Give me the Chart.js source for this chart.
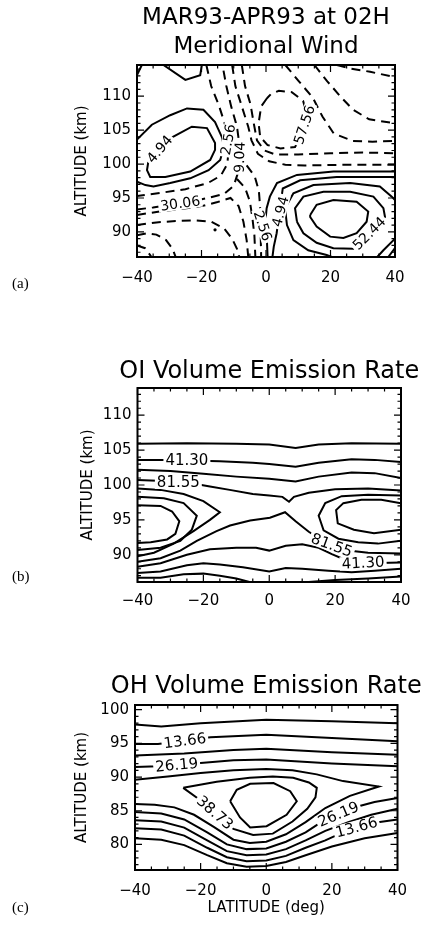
<!DOCTYPE html>
<html lang="pt-BR">
<head>
<meta charset="UTF-8">
<title>MAR93-APR93 at 02H</title>
<script src="https://cdn.jsdelivr.net/npm/chart.js@4.4.1/dist/chart.umd.min.js"></script>
<style>
  html, body { margin: 0; padding: 0; background: #fff; }
  body { position: relative; width: 428px; height: 927px; overflow: hidden; }
  .painel { position: absolute; left: 0; width: 428px; }
  .letra { position: absolute; left: 12px; font: 15px "Liberation Serif", serif; color: #000; }
</style>
</head>
<body>
<div class="painel" style="top: 0; height: 300px"><canvas id="graficoVento"></canvas></div>
<div class="painel" style="top: 300px; height: 320px"><canvas id="graficoOI"></canvas></div>
<div class="painel" style="top: 620px; height: 307px"><canvas id="graficoOH"></canvas></div>
<div class="letra" style="top: 275px">(a)</div>
<div class="letra" style="top: 568px">(b)</div>
<div class="letra" style="top: 899px">(c)</div>

<script>
const fonte = "'DejaVu Sans', sans-serif";

const latitudes = [-40, -20, 0, 20, 40];
const altitudesVento = [90, 95, 100, 105, 110];
const altitudesOI = [90, 95, 100, 105, 110];
const altitudesOH = [80, 85, 90, 95, 100];

// (a) vento meridional, pares [latitude, altitude]; cheias = positivo
const ventoPositivo = [
  [[-40, 103.6], [-35.4, 105.8], [-29.7, 107.2], [-24.5, 108.2], [-19.4, 108.0], [-15.8, 106.2], [-13.7, 104.0], [-13.2, 102.3], [-14.2, 100.6], [-17.8, 99.1], [-23.5, 97.9], [-29.7, 97.2], [-34.9, 96.7], [-37.4, 96.9], [-40, 97.4]],
  [[-36.4, 100.6], [-36.9, 99.1], [-35.9, 98.1], [-31.2, 98.1], [-23.5, 98.9], [-17.3, 100.6], [-15.8, 102.1], [-15.8, 103.1], [-18.3, 105.3], [-23.0, 105.5], [-29.7, 103.8], [-33.0, 102.2], [-36.4, 100.6]],
  [[-31.8, 114.6], [-25.0, 112.4], [-20.4, 113.1], [-19.9, 114.6]],
  [[-40, 113.1], [-38.5, 114.6]],
  [[13.7, 92.5], [15.7, 94.0], [20.9, 94.7], [28.1, 94.45], [31.7, 93.0], [31.2, 91.5], [28.1, 89.8], [24.0, 89.1], [19.9, 89.3], [15.7, 90.8], [13.7, 92.2], [13.7, 92.5]],
  [[9.6, 91.5], [9.0, 93.5], [11.6, 95.2], [17.8, 95.9], [26.1, 95.9], [33.3, 95.2], [36.4, 93.5], [36.9, 92.2], [32, 89.8], [27.1, 87.5], [20.9, 87.6], [15.7, 88.4], [11.6, 89.8], [9.6, 91.5]],
  [[20.4, 86.3], [18.8, 86.6], [13.1, 87.3], [8.5, 88.8], [6.5, 91.0], [5.9, 93.5], [8.5, 95.7], [14.7, 96.9], [26.1, 97.2], [35.3, 96.7], [39.0, 95.2], [40, 94.7]],
  [[34.5, 86.3], [36.4, 87.3], [40, 89.0]],
  [[37.9, 86.3], [40, 87.6]],
  [[2.0, 86.3], [2.4, 87.8], [3.3, 89.8], [4.2, 93.0], [5.2, 96.4], [10.6, 97.6], [21.9, 98.1], [35.3, 98.1], [40, 98.1]],
  [[0.5, 86.3], [0.3, 88.5], [-0.2, 91.5], [0.2, 93.5], [1.2, 95.2], [3.4, 97.2], [9.6, 98.4], [20.9, 98.9], [40, 98.9]]
];

// tracejadas = negativo
const ventoNegativo = [
  [[-18.5, 114.6], [-17, 111.5], [-14.5, 108.5], [-12.5, 105.5], [-11.5, 102.5], [-12, 100], [-14, 98.3], [-18, 97.2], [-25, 96.3], [-32, 95.8], [-40, 95.3]],
  [[-40, 93.3], [-35, 93.6], [-30, 94.0], [-24, 94.4], [-18, 95.0], [-13, 95.6], [-10, 96.8], [-8.5, 99], [-8, 102], [-9, 105.5], [-10.8, 108.5], [-12.3, 111.5], [-13.5, 114.6]],
  [[-10.5, 114.6], [-9.5, 111.5], [-7.5, 108.5], [-5.5, 105.5], [-4.5, 103.5], [-2.5, 101.5], [1, 100.4], [6, 99.9], [12, 99.8], [25, 99.9], [40, 99.9]],
  [[-7.5, 114.6], [-6.5, 111.5], [-4.8, 108.8], [-3.8, 106], [-2.8, 103.5], [-0.5, 102], [3, 101.4], [10, 101.4], [20, 101.6], [30, 101.7], [40, 101.6]],
  [[6, 114.6], [10, 112.3], [14.5, 109.8], [17.5, 107], [21, 104.5], [27, 103.4], [33, 103.3], [40, 103.4]],
  [[15, 114.6], [19, 112.2], [23, 110], [27, 108], [32, 106.6], [40, 106.0]],
  [[22, 114.6], [26, 114.1], [32.3, 113.6], [40, 112.8]],
  [[0.3, 109.7], [-1.5, 108.5], [-2.3, 106], [-1.8, 104], [0.5, 102.8], [4.5, 102.3], [9, 102.5], [11.3, 104.5], [12.6, 107.5], [11.5, 109.3], [8, 110.6], [4, 110.8], [1.5, 110.3], [0.3, 109.7]],
  [[-40, 92.5], [-33, 93.0], [-26, 93.4], [-20, 93.8], [-15, 94.4], [-11, 95.0], [-8.5, 93.8], [-7, 91.5], [-6, 88.8], [-5.5, 86.3]],
  [[-40, 91.0], [-34, 91.4], [-28, 91.6], [-22, 91.7], [-17, 91.5], [-13, 90.5], [-10.5, 89], [-9, 87.5], [-8.3, 86.3]],
  [[-40, 89.5], [-37, 89.8], [-34, 89.6], [-31, 88.8], [-29, 87.5], [-28, 86.3]],
  [[-40, 88.0], [-37.5, 87.6], [-35.5, 86.3]],
  [[-9, 97.8], [-6.5, 96.5], [-5, 94.5], [-4.2, 92], [-3.6, 89.5], [-3.3, 86.3]],
  [[-6, 99.8], [-3.5, 98.2], [-2.2, 96], [-1.8, 93.5], [-1.7, 91], [-1.6, 88.5], [-1.5, 86.3]]
];

const ventoPontos = [[-15.8, 90.3]];

// [texto, latitude, altitude, angulo]
const ventoRotulos = [
  ["4.94", -33.0, 102.2, -50],
  ["2.56", -11.8, 103.6, -80],
  ["9.04", -8.2, 101.0, -88],
  ["30.06", -26.6, 94.2, -8],
  ["57.56", 11.9, 105.8, -72],
  ["4.94", 4.4, 93.0, -75],
  ["52.44", 32, 89.8, -45],
  ["2.56", -1.0, 90.9, 72]
];

// (b) OI
const oiContornos = [
  [[-40, 105.9], [-25, 106.0], [-10, 105.9], [0, 105.8], [8, 105.3], [15, 105.8], [25, 106.0], [40, 105.9]],
  [[-40, 103.6], [-30, 103.6], [-15, 103.4], [-5, 103.2], [0, 103.0], [8, 102.6], [15, 103.2], [25, 103.7], [32, 103.6], [40, 103.3]],
  [[-40, 102.2], [-30, 102.0], [-20, 101.6], [-10, 101.2], [0, 100.9], [8, 100.5], [15, 101.2], [25, 101.8], [32, 101.7], [40, 101.0]],
  [[-40, 100.7], [-34, 100.6], [-24, 100.3], [-18, 99.8], [-12, 99.3], [-5, 98.7], [0, 98.5], [4, 98.3], [6, 97.6], [7.5, 98.3], [12, 98.9], [20, 99.4], [30, 99.5], [40, 99.2]],
  [[-40, 97.1], [-33, 97.0], [-29.5, 96.2], [-27.3, 94.8], [-28.5, 93.0], [-31, 92.2], [-36, 91.8], [-40, 91.7]],
  [[-40, 98.3], [-32, 98.1], [-26, 97.4], [-22, 95.6], [-23.5, 93.6], [-27, 92.0], [-33, 91.0], [-40, 90.7]],
  [[-40, 99.5], [-33, 99.3], [-26, 98.7], [-20, 97.7], [-15, 96.1], [-18, 95.0], [-23, 93.4], [-29, 91.6], [-35, 90.3], [-40, 89.8]],
  [[-40, 89.0], [-33, 89.5], [-27, 90.6], [-22, 92.0], [-16, 93.4], [-11.9, 94.2], [-5.8, 94.9], [0.2, 95.3], [4.8, 96.1], [8, 94.8], [12, 93.3], [16, 92.1], [20, 91.2], [24, 90.6], [30, 90.3], [40, 90.2]],
  [[-40, 88.3], [-33, 88.8], [-25, 90.0], [-18, 90.8], [-10, 91.0], [-4, 91.0], [0, 90.6], [5, 91.3], [10, 91.5], [15, 91.0], [19, 90.1], [23, 89.3], [30, 88.8], [40, 88.9]],
  [[-40, 87.4], [-33, 87.6], [-25, 88.5], [-20, 88.8], [-15, 88.6], [-8, 88.2], [0, 87.6], [5, 88.1], [10, 88.0], [18, 87.7], [25, 87.5], [32, 87.7], [40, 88.0]],
  [[-40, 86.7], [-33, 86.7], [-26, 87.2], [-20, 87.3], [-15, 87.0], [-10, 86.6], [-6, 86.1]],
  [[12, 86.1], [20, 86.4], [30, 86.6], [40, 86.9]],
  [[40, 97.4], [34, 97.9], [28, 97.9], [22.5, 97.4], [20.3, 96.4], [20.8, 94.5], [25.7, 93.6], [31.8, 93.1], [40, 93.6]],
  [[40, 98.5], [30, 98.6], [22, 98.4], [17, 97.4], [15, 95.6], [16.5, 93.5], [21, 92.3], [27, 91.8], [33, 91.6], [40, 92.0]]
];

const oiRotulos = [
  ["41.30", -25, 103.6, 0],
  ["81.55", -27.6, 100.4, 0],
  ["81.55", 19, 91.4, 20],
  ["41.30", 28.5, 88.85, -3]
];

// (c) OH
const ohContornos = [
  [[-40, 97.8], [-32, 97.5], [-20, 98.0], [0, 98.5], [20, 98.3], [40, 98.0]],
  [[-40, 94.9], [-33, 94.9], [-25, 95.4], [-17, 95.9], [0, 96.3], [20, 95.8], [40, 95.3]],
  [[-40, 93.2], [-25, 93.5], [-10, 94.0], [0, 94.2], [20, 93.7], [40, 93.3]],
  [[-40, 91.5], [-33, 91.6], [-20, 92.1], [-10, 92.5], [0, 92.6], [20, 92.0], [40, 91.6]],
  [[-40, 89.6], [-30, 90.1], [-20, 90.6], [-10, 91.0], [0, 91.2], [8, 91.0], [15.4, 90.4], [23.4, 89.4], [34.3, 88.6], [25.5, 87.2], [18, 85.4], [12, 83.3], [6, 81.5], [0, 80.4], [-5, 80.2], [-10, 80.7], [-16, 82.6], [-22, 84.4], [-28, 85.5], [-34, 85.9], [-40, 86.0]],
  [[-25.3, 88.4], [-15.1, 89.3], [-5, 89.9], [2, 90.1], [8.2, 89.9], [13, 89.2], [15.4, 88.4], [15.0, 87.0], [12.5, 85.3], [8, 83.4], [2, 81.6], [-4, 81.4], [-10, 82.3], [-15.5, 84.6], [-20.5, 86.7], [-25.3, 88.4]],
  [[-11, 86.4], [-9, 88.1], [-4.9, 89.0], [2.2, 89.1], [7.3, 87.9], [9.3, 86.4], [6.2, 84.4], [0.1, 82.7], [-4.9, 82.5], [-8, 84.0], [-11, 86.4]],
  [[-40, 84.8], [-32, 84.6], [-25, 83.7], [-18, 81.8], [-12, 80.0], [-6, 79.3], [0, 79.4], [6, 80.4], [12, 81.8], [16.4, 83.2], [22, 84.5], [27.6, 85.6], [33, 86.3], [40, 86.9]],
  [[-40, 83.6], [-32, 83.4], [-25, 82.5], [-18, 80.6], [-12, 79.0], [-6, 78.4], [0, 78.5], [6, 79.3], [12, 80.6], [18, 82.0], [25, 83.3], [32, 84.4], [40, 85.3]],
  [[-40, 82.4], [-32, 82.2], [-25, 81.3], [-18, 79.5], [-12, 78.1], [-6, 77.5], [0, 77.6], [6, 78.3], [12, 79.5], [18, 80.6], [22, 81.5], [27.6, 82.6], [33, 83.2], [40, 83.7]],
  [[-40, 80.9], [-32, 80.7], [-25, 79.9], [-18, 78.4], [-12, 77.2], [-6, 76.7], [0, 76.8], [6, 77.4], [12, 78.4], [20, 79.7], [30, 80.9], [40, 81.7]]
];

const ohRotulos = [
  ["13.66", -24.8, 95.4, -7],
  ["26.19", -27.3, 91.8, -5],
  ["38.73", -15.6, 84.7, 41],
  ["26.19", 22, 84.5, -23],
  ["13.66", 27.5, 82.55, -15]
];

function formatarTick(valor) {
  return valor < 0 ? "\u2212" + Math.abs(valor) : String(valor);
}

function criarLinha(pontos, tracejada) {
  return {
    data: pontos.map(([lat, alt]) => ({ x: lat, y: alt })),
    showLine: true,
    borderColor: "#000",
    borderWidth: 2,
    borderDash: tracejada ? [9, 6] : [],
    pointRadius: 0,
    fill: false,
    tension: 0,
  };
}

function criarPontos(pontos) {
  return {
    data: pontos.map(([lat, alt]) => ({ x: lat, y: alt })),
    showLine: false,
    pointRadius: 1.6,
    pointBackgroundColor: "#000",
    pointBorderWidth: 0,
  };
}

const pluginMoldura = {
  id: "moldura",

  afterDatasetsDraw(chart, args, opcoes) {
    const ctx = chart.ctx;
    const area = chart.chartArea;
    const x = chart.scales.x;
    const y = chart.scales.y;

    // rotulos das curvas, com fundo branco para abrir a linha
    ctx.save();
    ctx.beginPath();
    ctx.rect(area.left, area.top, area.right - area.left, area.bottom - area.top);
    ctx.clip();
    ctx.font = opcoes.rotuloFonte + "px " + fonte;
    ctx.textAlign = "center";
    ctx.textBaseline = "middle";

    opcoes.rotulos.forEach(([texto, lat, alt, angulo]) => {
      const largura = ctx.measureText(texto).width;

      ctx.save();
      ctx.translate(x.getPixelForValue(lat), y.getPixelForValue(alt));
      ctx.rotate((angulo * Math.PI) / 180);
      ctx.fillStyle = "#fff";
      ctx.fillRect(-largura / 2 - 2, -opcoes.rotuloFonte * 0.45, largura + 4, opcoes.rotuloFonte * 0.9);
      ctx.fillStyle = "#000";
      ctx.fillText(texto, 0, 1);
      ctx.restore();
    });

    ctx.restore();

    // caixa e marcas para dentro
    ctx.save();
    ctx.strokeStyle = "#000";
    ctx.lineWidth = 2;
    ctx.strokeRect(area.left, area.top, area.right - area.left, area.bottom - area.top);

    ctx.lineWidth = 1.2;
    ctx.beginPath();

    for (let v = x.min; v <= x.max; v += 5) {
      const px = x.getPixelForValue(v);
      const tam = v % 20 === 0 ? 7 : 3.5;

      ctx.moveTo(px, area.bottom);
      ctx.lineTo(px, area.bottom - tam);
      ctx.moveTo(px, area.top);
      ctx.lineTo(px, area.top + tam);
    }

    for (let v = Math.ceil(y.min); v <= Math.floor(y.max); v++) {
      const py = y.getPixelForValue(v);
      const tam = v % 5 === 0 ? 7 : 3.5;

      ctx.moveTo(area.left, py);
      ctx.lineTo(area.left + tam, py);
      ctx.moveTo(area.right, py);
      ctx.lineTo(area.right - tam, py);
    }

    ctx.stroke();

    ctx.font = opcoes.tituloFonte + "px " + fonte;
    ctx.fillStyle = "#000";
    ctx.textAlign = "center";
    ctx.textBaseline = "middle";

    opcoes.titulo.forEach((linha, i) => {
      ctx.fillText(linha, (area.left + area.right) / 2, opcoes.tituloY[i]);
    });

    ctx.restore();
  },
};

function criarGrafico(id, cfg) {
  const eixoX = {
    type: "linear",
    min: -40,
    max: 40,
    afterBuildTicks: (escala) => {
      escala.ticks = latitudes.map((v) => ({ value: v }));
    },
    afterFit: (escala) => {
      escala.height = cfg.alturaX;
    },
    grid: { display: false, drawTicks: false },
    border: { display: false },
    ticks: {
      color: "#000",
      font: { family: fonte, size: 15 },
      padding: cfg.paddingX,
      maxRotation: 0,
      autoSkip: false,
      callback: (valor) => formatarTick(valor),
    },
  };

  if (cfg.tituloX) {
    eixoX.title = {
      display: true,
      text: cfg.tituloX,
      color: "#000",
      font: { family: fonte, size: 15 },
      padding: { top: 0, bottom: 10 },
    };
  }

  return new Chart(document.getElementById(id), {
    type: "scatter",
    data: { datasets: cfg.datasets },
    plugins: [pluginMoldura],
    options: {
      responsive: true,
      maintainAspectRatio: false,
      animation: false,
      events: [],
      layout: {
        padding: { left: 0, right: cfg.direita, top: cfg.topo, bottom: 0 },
      },
      scales: {
        x: eixoX,
        y: {
          type: "linear",
          min: cfg.yMin,
          max: cfg.yMax,
          afterBuildTicks: (escala) => {
            escala.ticks = cfg.yTicks.map((v) => ({ value: v }));
          },
          afterFit: (escala) => {
            escala.width = cfg.esquerda;
          },
          grid: { display: false, drawTicks: false },
          border: { display: false },
          ticks: {
            color: "#000",
            font: { family: fonte, size: 15 },
            padding: 6,
            autoSkip: false,
            callback: (valor) => String(valor),
          },
          title: {
            display: true,
            text: "ALTITUDE (km)",
            color: "#000",
            font: { family: fonte, size: 15 },
            padding: { top: cfg.tituloYx - 9, bottom: 0 },
          },
        },
      },
      plugins: {
        legend: { display: false },
        tooltip: { enabled: false },
        moldura: {
          rotulos: cfg.rotulos,
          rotuloFonte: cfg.rotuloFonte,
          titulo: cfg.titulo,
          tituloY: cfg.tituloY,
          tituloFonte: cfg.tituloFonte,
        },
      },
    },
  });
}

criarGrafico("graficoVento", {
  datasets: [
    ...ventoPositivo.map((c) => criarLinha(c, false)),
    ...ventoNegativo.map((c) => criarLinha(c, true)),
    criarPontos(ventoPontos),
  ],
  rotulos: ventoRotulos,
  rotuloFonte: 14,
  titulo: ["MAR93-APR93 at 02H", "Meridional Wind"],
  tituloY: [18, 47],
  tituloFonte: 23,
  yMin: 86.3,
  yMax: 114.6,
  yTicks: altitudesVento,
  esquerda: 137,
  direita: 33,
  topo: 65,
  alturaX: 43,
  paddingX: 12,
  tituloYx: 82,
});

criarGrafico("graficoOI", {
  datasets: oiContornos.map((c) => criarLinha(c, false)),
  rotulos: oiRotulos,
  rotuloFonte: 15,
  titulo: ["OI Volume Emission Rate"],
  tituloY: [71.7],
  tituloFonte: 24,
  yMin: 86.1,
  yMax: 113.9,
  yTicks: altitudesOI,
  esquerda: 137.5,
  direita: 27,
  topo: 88,
  alturaX: 38,
  paddingX: 10,
  tituloYx: 88,
});

criarGrafico("graficoOH", {
  datasets: ohContornos.map((c) => criarLinha(c, false)),
  rotulos: ohRotulos,
  rotuloFonte: 15,
  titulo: ["OH Volume Emission Rate"],
  tituloY: [67],
  tituloFonte: 24,
  yMin: 76.2,
  yMax: 100.7,
  yTicks: altitudesOH,
  esquerda: 135,
  direita: 30.5,
  topo: 85,
  alturaX: 57,
  paddingX: 12,
  tituloX: "LATITUDE (deg)",
  tituloYx: 82,
});
</script>
</body>
</html>
